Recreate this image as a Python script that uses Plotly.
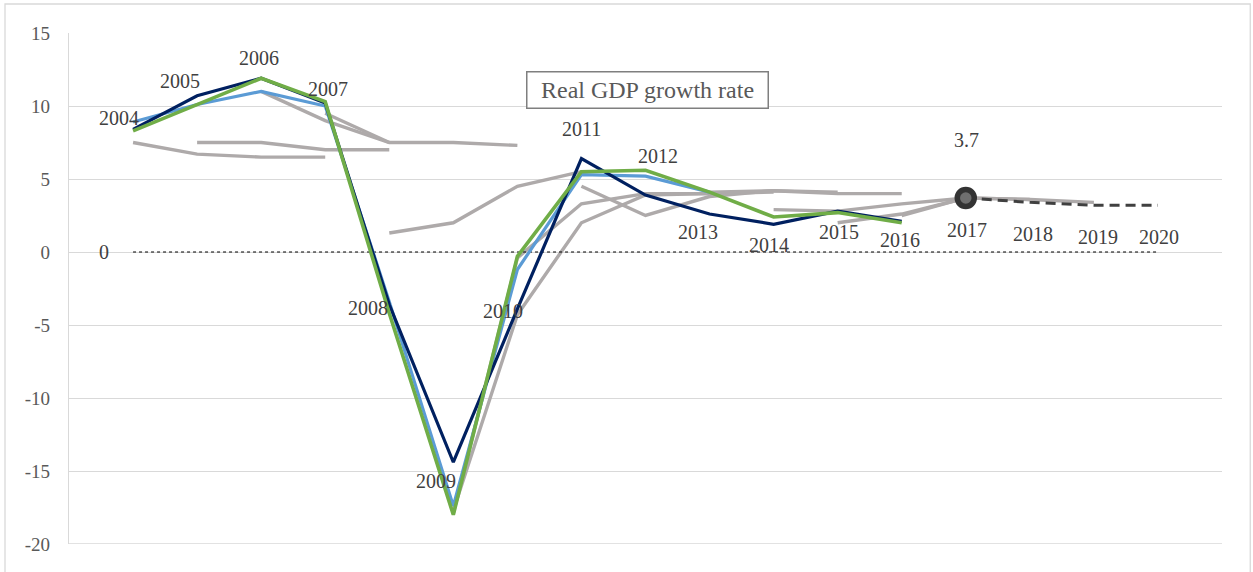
import plotly.graph_objects as go

years = list(range(2004, 2021))

# Main data vintages
navy_years = list(range(2004, 2017))
navy_vals = [8.4, 10.7, 11.9, 10.2, -3.6, -14.4, -3.9, 6.4, 3.9, 2.6, 1.9, 2.8, 2.1]

blue_years = list(range(2004, 2014))
blue_vals = [8.9, 10.1, 11.0, 10.0, -3.4, -17.4, -1.2, 5.3, 5.2, 4.1]

green_years = list(range(2004, 2017))
green_vals = [8.3, 10.1, 11.9, 10.3, -4.2, -18.0, -0.3, 5.5, 5.6, 4.1, 2.4, 2.7, 2.0]

# Forecast vintages (grey)
grey_series = [
    ([2004, 2005, 2006, 2007], [7.5, 6.7, 6.5, 6.5]),
    ([2005, 2006, 2007, 2008], [7.5, 7.5, 7.0, 7.0]),
    ([2006, 2007, 2008, 2009, 2010], [11.0, 9.0, 7.5, 7.5, 7.3]),
    ([2007, 2008], [9.5, 7.5]),
    ([2008, 2009, 2010, 2011], [1.3, 2.0, 4.5, 5.5]),
    ([2009, 2010, 2011, 2012, 2013], [-17.9, -0.4, 3.3, 4.0, 4.0]),
    ([2009, 2010, 2011, 2012, 2013, 2014], [-17.7, -4.3, 2.0, 3.9, 4.0, 4.1]),
    ([2011, 2012, 2013, 2014, 2015], [4.5, 2.5, 3.8, 4.2, 4.1]),
    ([2013, 2014, 2015, 2016], [4.1, 4.2, 4.0, 4.0]),
    ([2014, 2015, 2016, 2017], [2.9, 2.8, 3.3, 3.7]),
    ([2015, 2016, 2017, 2018], [2.0, 2.6, 3.7, 3.6]),
    ([2016, 2017, 2018, 2019], [2.5, 3.7, 3.6, 3.4]),
]

# Latest forecast (dashed)
fc_years = [2017, 2018, 2019, 2020]
fc_vals = [3.7, 3.4, 3.2, 3.2]

zero_vals = [0] * len(years)

y_ticks = [15, 10, 5, 0, -5, -10, -15, -20]
y_tick_text = ["15", "10", "5", "0", "-5", "-10", "-15", "-20"]

# Year-label offsets (pixels) relative to the anchor points
label_dx = [-14, -17, -2, 3, -21, -17, -14, 0, 12, -12, -5, 1, -2, 1, 3, 4, 1]
label_dy = [11, 15, 20, 14, -3, -19, -2, 30, 39, -18, -21, -21, -19, -32, -32, -32, -32]

GREY = "#AEAAAA"
SERIF = "Liberation Serif, Times New Roman, serif"

fig = go.Figure()

for xs, ys in grey_series:
    fig.add_trace(go.Scatter(x=xs, y=ys, mode="lines",
                             line=dict(color=GREY, width=3.4), hoverinfo="skip", showlegend=False))

fig.add_trace(go.Scatter(x=years, y=zero_vals, mode="lines",
                         line=dict(color="#000000", width=1, dash="dot"), showlegend=False))

fig.add_trace(go.Scatter(x=blue_years, y=blue_vals, mode="lines",
                         line=dict(color="#5B9BD5", width=3.2), showlegend=False))
fig.add_trace(go.Scatter(x=navy_years, y=navy_vals, mode="lines",
                         line=dict(color="#002060", width=3.2), showlegend=False))
fig.add_trace(go.Scatter(x=green_years, y=green_vals, mode="lines",
                         line=dict(color="#70AD47", width=3.6), showlegend=False))

fig.add_trace(go.Scatter(x=fc_years, y=fc_vals, mode="lines",
                         line=dict(color="#404040", width=3, dash="10px,6px"), showlegend=False))
fig.add_trace(go.Scatter(x=[fc_years[0]], y=[fc_vals[0]], mode="markers",
                         marker=dict(size=17, color="#6F6F6F", line=dict(color="#333333", width=5.5)),
                         showlegend=False))

# Year labels anchored at the series points
anchor_vals = navy_vals + fc_vals
annotations = []
for i, yr in enumerate(years):
    annotations.append(dict(x=yr, y=anchor_vals[i], xref="x", yref="y", text=str(yr),
                            showarrow=False, xshift=label_dx[i], yshift=label_dy[i],
                            font=dict(family=SERIF, size=20, color="#404040")))
annotations.append(dict(x=fc_years[0], y=fc_vals[0], xref="x", yref="y", text=f"{fc_vals[0]}",
                        showarrow=False, xshift=1, yshift=58,
                        font=dict(family=SERIF, size=20, color="#404040")))
annotations.append(dict(x=years[0], y=0, xref="x", yref="y", text="0",
                        showarrow=False, xshift=-29, yshift=0,
                        font=dict(family=SERIF, size=20, color="#404040")))
annotations.append(dict(x=0.502, y=0.9256, xref="paper", yref="paper",
                        text="Real GDP growth rate", showarrow=False,
                        font=dict(family=SERIF, size=24, color="#595959"),
                        bordercolor="#7F7F7F", borderwidth=1.5, borderpad=4,
                        width=232, height=27, bgcolor="white"))

fig.update_layout(
    width=1253, height=572,
    margin=dict(l=69, r=31, t=33, b=28),
    paper_bgcolor="white", plot_bgcolor="white",
    annotations=annotations,
    shapes=[
        dict(type="rect", xref="paper", yref="paper",
             x0=-0.0555, x1=1.0245, y0=-0.08, y1=1.0568,
             line=dict(color="#D9D9D9", width=1.3), layer="below"),
        dict(type="line", xref="paper", yref="y", x0=0, x1=1, y0=y_ticks[-1], y1=y_ticks[-1],
             line=dict(color="#D9D9D9", width=1.5), layer="below"),
    ],
    xaxis=dict(range=[2003, 2021], showticklabels=False, showgrid=False,
               zeroline=False, showline=False, ticks=""),
    yaxis=dict(range=[-20, 15], tickvals=y_ticks, ticktext=y_tick_text,
               showgrid=True, gridcolor="#D9D9D9",
               gridwidth=1.3, zeroline=False, showline=True, linecolor="#D9D9D9",
               linewidth=1.3, ticks="", ticklabelstandoff=14,
               tickfont=dict(family=SERIF, size=19, color="#595959")),
)

fig.write_html("out.html", config={"displayModeBar": False},
               post_script="document.body.style.margin='0';document.body.style.overflow='hidden';")
